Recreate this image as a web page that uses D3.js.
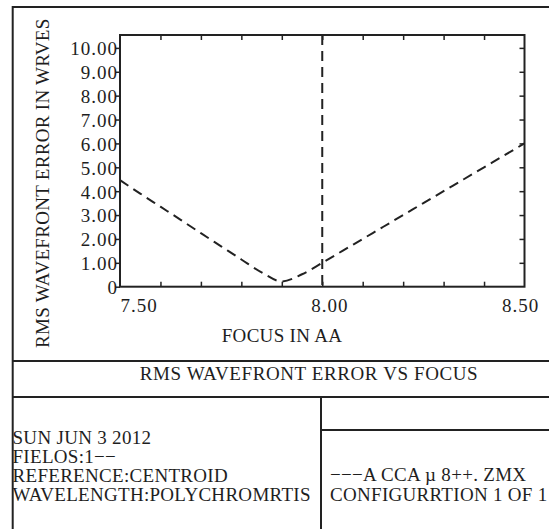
<!DOCTYPE html>
<html>
<head>
<meta charset="utf-8">
<script src="https://cdn.jsdelivr.net/npm/d3@7"></script>
<style>
  html, body { margin: 0; padding: 0; background: #fff; }
  svg text { font-family: "Liberation Serif", "Times New Roman", serif; fill: #1e1e1e; }
</style>
</head>
<body>
<div id="chart"></div>
<script>
// Focus position (x) and RMS wavefront error in waves (y)
const focus = [7.50, 7.55, 7.60, 7.65, 7.70, 7.75, 7.80, 7.85, 7.90, 7.95,
               8.00, 8.05, 8.10, 8.15, 8.20, 8.25, 8.30, 8.35, 8.40, 8.45, 8.50];
const rmsError = [4.46, 3.90, 3.35, 2.80, 2.24, 1.69, 1.14, 0.60, 0.22, 0.52,
                  1.00, 1.50, 2.00, 2.50, 3.00, 3.50, 4.00, 4.50, 5.00, 5.50, 6.00];
const bestFocus = 8.00;

const xLabels = [7.50, 8.00, 8.50];
const xMinor = [7.6, 7.7, 7.8, 7.9, 8.0, 8.1, 8.2, 8.3, 8.4];
const yTicks = [0, 1, 2, 3, 4, 5, 6, 7, 8, 9, 10];

const xAxisTitle = "FOCUS IN AA";
const yAxisTitle = "RMS WAVEFRONT ERROR IN WRVES";
const chartTitle = "RMS WAVEFRONT ERROR VS FOCUS";
const infoLeft = ["SUN JUN 3 2012", "FIELOS:1\u2212\u2212", "REFERENCE:CENTROID", "WAVELENGTH:POLYCHROMRTIS"];
const infoRight = ["\u2212\u2212\u2212A CCA \u00b5 8++. ZMX", "CONFIGURRTION 1 OF 1"];

const W = 549, H = 529;
const plot = { left: 120, right: 524.5, top: 35, bottom: 286.7 };
const ink = "#222";

const svg = d3.select("#chart").append("svg")
  .attr("width", W).attr("height", H)
  .attr("viewBox", `0 0 ${W} ${H}`);

const x = d3.scaleLinear().domain([7.5, 8.5]).range([plot.left, plot.right]);
const y = d3.scaleLinear().domain([0, 10.54]).range([plot.bottom, plot.top]);

// outer page frame and table rules
const frame = svg.append("g").attr("stroke", ink).attr("stroke-width", 2).attr("fill", "none");
frame.append("path").attr("d", `M12.7,${H + 2} V7 H${W + 2}`);
frame.append("line").attr("x1", 12.7).attr("x2", W + 2).attr("y1", 361).attr("y2", 361);
frame.append("line").attr("x1", 12.7).attr("x2", W + 2).attr("y1", 397).attr("y2", 397);
frame.append("line").attr("x1", 321).attr("x2", 321).attr("y1", 397).attr("y2", H + 2);
frame.append("line").attr("x1", 321).attr("x2", W + 2).attr("y1", 430).attr("y2", 430);

// text sizes: words a bit tighter than numbers (the plotter font has wide digits)
const font = sel => sel.attr("font-size", 19).attr("letter-spacing", 0.3);
const numFont = sel => sel.attr("font-size", 19).attr("letter-spacing", 1);

// inward minor ticks, top and bottom
const tickStyle = g => {
  g.select(".domain").remove();
  g.selectAll(".tick line").attr("stroke", ink).attr("stroke-width", 1.5);
};
svg.append("g").attr("transform", `translate(0,${plot.bottom})`)
  .call(d3.axisBottom(x).tickValues(xMinor).tickSize(-5).tickSizeOuter(0).tickFormat(""))
  .call(tickStyle);
svg.append("g").attr("transform", `translate(0,${plot.top})`)
  .call(d3.axisTop(x).tickValues(xMinor).tickSize(-5).tickSizeOuter(0).tickFormat(""))
  .call(tickStyle);
svg.append("g").attr("transform", `translate(${plot.right},0)`)
  .call(d3.axisRight(y).tickValues(yTicks.slice(1)).tickSize(-5).tickSizeOuter(0).tickFormat(""))
  .call(tickStyle);

// left axis with labels, ticks outward
const yAxis = svg.append("g").attr("transform", `translate(${plot.left},0)`)
  .call(d3.axisLeft(y).tickValues(yTicks).tickSize(4).tickPadding(0).tickSizeOuter(0)
    .tickFormat(d => d === 0 ? "0" : d3.format(".2f")(d)))
  .call(tickStyle);
yAxis.selectAll("text").attr("font-family", null).call(numFont)
  .attr("fill", null).attr("dy", "0.36em").attr("x", -2);

// bottom labels (Zemax places them a little off-centre)
const xAxis = svg.append("g").attr("transform", `translate(0,${plot.bottom})`)
  .call(d3.axisBottom(x).tickValues(xLabels).tickSize(0).tickSizeOuter(0).tickFormat(d3.format(".2f")));
xAxis.select(".domain").remove();
xAxis.selectAll("text").attr("font-family", null).call(numFont).attr("fill", null)
  .attr("text-anchor", "start").attr("dy", null).attr("y", 25.5)
  .attr("x", (d, i) => [0, -11.5, -23][i]);

// plot border
svg.append("rect")
  .attr("x", plot.left).attr("y", plot.top)
  .attr("width", plot.right - plot.left).attr("height", plot.bottom - plot.top)
  .attr("fill", "none").attr("stroke", ink).attr("stroke-width", 2);

// vertical dashed marker
svg.append("line")
  .attr("x1", x(bestFocus)).attr("x2", x(bestFocus))
  .attr("y1", plot.top).attr("y2", plot.bottom)
  .attr("stroke", ink).attr("stroke-width", 2).attr("stroke-dasharray", "10,6");

// RMS curve
const line = d3.line().x((d, i) => x(focus[i])).y(d => y(d)).curve(d3.curveMonotoneX);
svg.append("path").datum(rmsError)
  .attr("d", line)
  .attr("fill", "none").attr("stroke", ink).attr("stroke-width", 2)
  .attr("stroke-dasharray", "10,6");

// axis titles
svg.append("text").text(xAxisTitle).call(font)
  .attr("x", 282).attr("y", 341.5).attr("text-anchor", "middle");
svg.append("text").text(yAxisTitle).call(font)
  .attr("transform", "translate(49,348) rotate(-90)");

// title row
svg.append("text").text(chartTitle).call(font).attr("letter-spacing", 0.6)
  .attr("x", 309).attr("y", 379.5).attr("text-anchor", "middle");

// info blocks
svg.append("g").selectAll("text").data(infoLeft).join("text")
  .text(d => d).call(font)
  .attr("x", 12.5).attr("y", (d, i) => 443.5 + i * 19);
svg.append("g").selectAll("text").data(infoRight).join("text")
  .text(d => d).call(font)
  .attr("x", 330).attr("y", (d, i) => 480.5 + i * 20);
</script>
</body>
</html>
